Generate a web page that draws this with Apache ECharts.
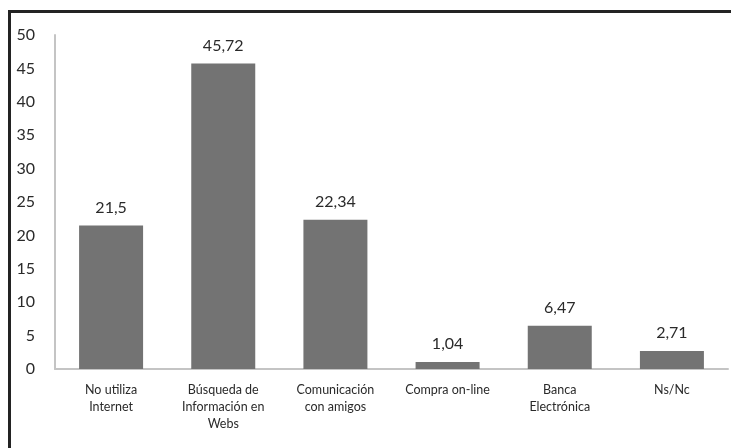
<!DOCTYPE html>
<html>
<head>
<meta charset="utf-8">
<script src="https://cdn.jsdelivr.net/npm/echarts@6/dist/echarts.min.js"></script>
<style>
  html, body { margin: 0; padding: 0; background: #fff; }
  #chart { width: 731px; height: 448px; }
</style>
</head>
<body>
<div id="chart"></div>
<script>
// Internet use categories and their percentages
const categories = [
  'No utiliza\nInternet',
  'Búsqueda de\nInformación en\nWebs',
  'Comunicación\ncon amigos',
  'Compra on-line',
  'Banca\nElectrónica',
  'Ns/Nc'
];
const values = [21.5, 45.72, 22.34, 1.04, 6.47, 2.71];
const valueLabels = ['21,5', '45,72', '22,34', '1,04', '6,47', '2,71'];
const yTicks = [0, 5, 10, 15, 20, 25, 30, 35, 40, 45, 50];

const chart = echarts.init(document.getElementById('chart'), null, { renderer: 'canvas' });

chart.setOption({
  animation: false,
  backgroundColor: '#ffffff',
  grid: { left: 55, right: 3, top: 35, bottom: 79 },
  graphic: [{
    type: 'rect',
    shape: { x: 9.5, y: 11.5, width: 760, height: 480 },
    style: { fill: 'none', stroke: '#232323', lineWidth: 3 },
    z: 100
  }],
  xAxis: {
    type: 'category',
    data: categories,
    axisLine: { show: true, lineStyle: { color: '#c4c4c4', width: 2 } },
    axisTick: { show: false },
    axisLabel: {
      interval: 0,
      color: '#2a2a2a',
      fontFamily: 'Lato',
      fontSize: 12.5,
      lineHeight: 17,
      margin: 12
    }
  },
  yAxis: {
    type: 'value',
    min: yTicks[0],
    max: yTicks[yTicks.length - 1],
    interval: 5,
    splitLine: { show: false },
    axisTick: { show: false },
    axisLine: { show: true, lineStyle: { color: '#c4c4c4', width: 2 } },
    axisLabel: {
      color: '#2a2a2a',
      fontFamily: 'Lato',
      fontSize: 16,
      margin: 20
    }
  },
  series: [{
    type: 'bar',
    data: values,
    barWidth: 64,
    itemStyle: { color: '#737373' },
    label: {
      show: true,
      position: 'top',
      distance: 10,
      color: '#2a2a2a',
      fontFamily: 'Lato',
      fontSize: 16,
      formatter: p => valueLabels[p.dataIndex]
    }
  }]
});
</script>
</body>
</html>
